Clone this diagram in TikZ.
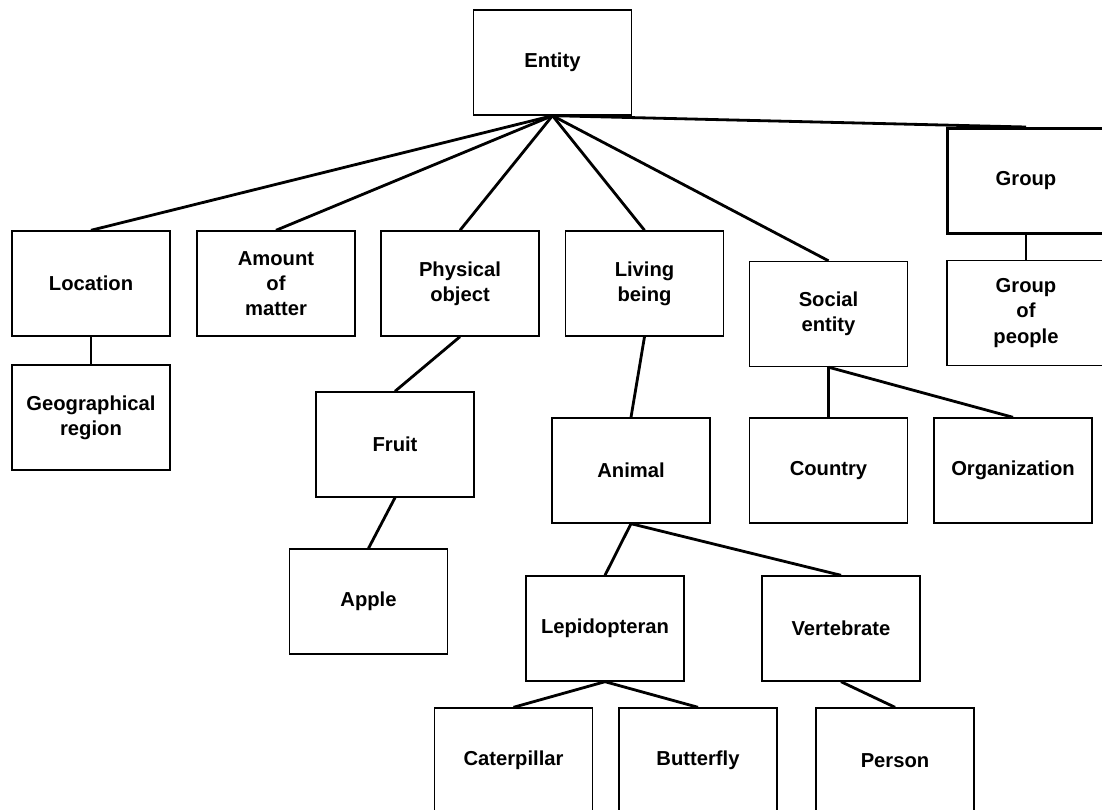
\documentclass[tikz,border=0pt]{standalone}
\usepackage{fontspec}
\setmainfont{Liberation Sans}
\tikzset{% boxes of the taxonomy and the lines between them
   catbox/.style={draw, line width=0.8pt, minimum width=3.16cm, minimum height=2.1cm,
                  inner sep=0mm, align=center, font=\fontsize{11.5}{14.3}\selectfont\bfseries},
   link/.style={line width=1.6pt},
}
\begin{document}
\begin{tikzpicture}[x=0.02cm, y=-0.02cm]
   \useasboundingbox (0,0) rectangle (1102,810);
   \clip (0,0) rectangle (1102,810);
   % top level
   \node[catbox] (entity) at (552.5,62.5) {Entity};
   \node[catbox] (location) at (91,283.5) {Location};
   \node[catbox] (amount) at (276,283.5) {Amount\\of\\matter};
   \node[catbox] (physobj) at (460,283.5) {Physical\\object};
   \node[catbox] (living) at (644.5,283.5) {Living\\being};
   \node[catbox] (social) at (828.5,314) {Social\\entity};
   \node[catbox, line width=1.7pt] (group) at (1026,181) {Group};
   % lower levels
   \node[catbox] (georegion) at (91,417.5) {Geographical\\region};
   \node[catbox] (people) at (1026,313) {Group\\of\\people};
   \node[catbox] (fruit) at (395,444.5) {Fruit};
   \node[catbox] (apple) at (368.5,601.5) {Apple};
   \node[catbox] (animal) at (631,470.5) {Animal};
   \node[catbox] (country) at (828.5,470.5) {Country};
   \node[catbox] (org) at (1013,470.5) {Organization};
   \node[catbox] (lepi) at (605,628.5) {Lepidopteran};
   \node[catbox] (vert) at (841,628.5) {Vertebrate};
   \node[catbox] (cater) at (513.5,760.5) {Caterpillar};
   \node[catbox] (butter) at (698,760.5) {Butterfly};
   \node[catbox] (person) at (895,760.5) {Person};
   % the is-a lines
   \foreach \a/\b in {entity/location, entity/amount, entity/physobj, entity/living,
                      entity/social, entity/group, location/georegion, group/people,
                      physobj/fruit, fruit/apple, living/animal, social/country,
                      social/org, animal/lepi, animal/vert, lepi/cater, lepi/butter,
                      vert/person} {
      \draw[link] (\a.south) -- (\b.north);
   }
\end{tikzpicture}
\end{document}
